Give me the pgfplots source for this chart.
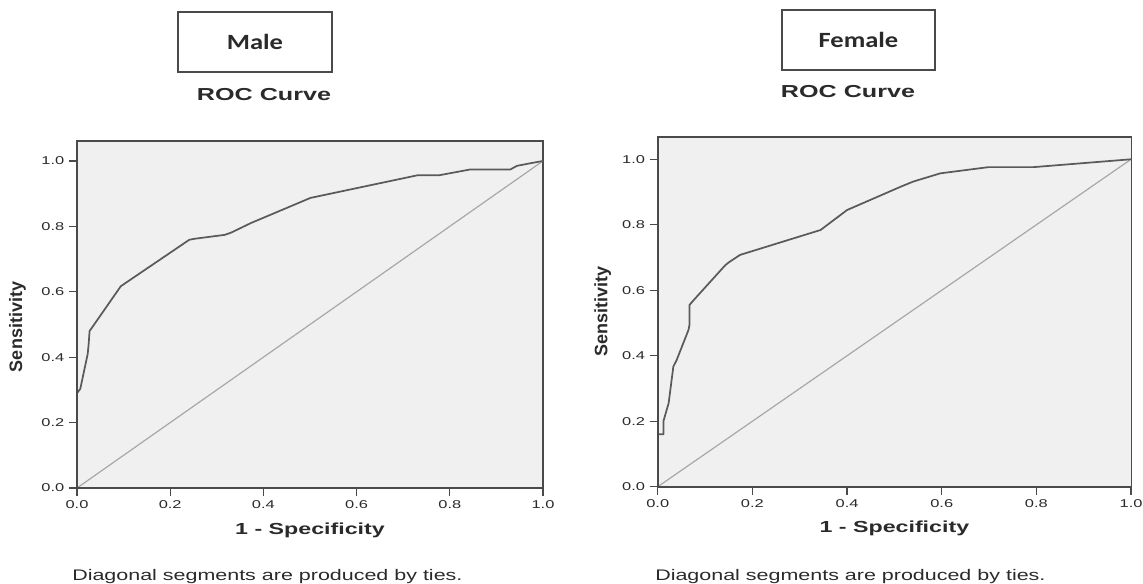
\documentclass[border=0pt]{standalone}
\usepackage{pgfplots}
\pgfplotsset{compat=1.18}
\usepackage{graphicx}
\usepackage{fontspec}
\setmainfont{Liberation Sans}
\newfontfamily\calib{Carlito}

\definecolor{plotbg}{HTML}{F0F0F1}
\definecolor{framec}{HTML}{4A4A4A}
\definecolor{curvec}{HTML}{5A5A5A}
\definecolor{diagc}{HTML}{A8A8A8}
\definecolor{textc}{HTML}{2A2A2A}

% the whole reference is stretched sideways, so the text is too
\newcommand{\wide}[1]{\scalebox{1.45}[1]{#1}}

\pgfplotsset{
  rocaxis/.style={
    scale only axis, anchor=south west,
    xmin=0, xmax=1, ymin=0,
    xtick={0,0.2,0.4,0.6,0.8,1.0},
    ytick={0,0.2,0.4,0.6,0.8,1.0},
    xtick pos=lower, ytick pos=left,
    tick align=outside, major tick length=6pt,
    tick style={framec, line width=0.9pt},
    axis line style={framec, line width=0.8pt},
    axis background/.style={fill=plotbg},
    /pgf/number format/assume math mode=true,
    xticklabel={\wide{\pgfmathprintnumber[fixed,fixed zerofill,precision=1]{\tick}}},
    yticklabel={\wide{\pgfmathprintnumber[fixed,fixed zerofill,precision=1]{\tick}}},
    tick label style={font=\fontsize{8.5}{10}\selectfont, text=textc},
    every axis x label/.style={anchor=center},
    every axis y label/.style={rotate=90, anchor=center},
    xlabel style={font=\fontsize{12}{14}\selectfont\bfseries, text=textc},
    ylabel style={font=\fontsize{13.5}{15}\selectfont\bfseries, text=textc},
    extra description/.code={
      \draw[framec, line width=1.6pt] (rel axis cs:0,1) -- (rel axis cs:0,0) -- (rel axis cs:1,0);
    },
  },
  roc/.style={curvec, line width=1.3pt, line join=round},
  diag/.style={diagc, line width=0.9pt},
}

\begin{document}
\begin{tikzpicture}[x=0.75pt, y=0.75pt]
\path[use as bounding box] (0,0) rectangle (1143,583);

% Male
\begin{axis}[rocaxis, at={(57.75pt,71.25pt)}, width=349.5pt, height=260.25pt, ymax=1.061,
  xlabel={\wide{1 - Specificity}}, ylabel={Sensitivity},
  xlabel style={at={(rel axis cs:0.5,-0.121)}},
  ylabel style={at={(rel axis cs:-0.128,0.464)}}]
\addplot[diag] coordinates {(0,0) (1,1)};
\addplot[roc] coordinates {
  (0,0) (0,0.29) (0.007,0.303) (0.023,0.41) (0.025,0.44) (0.027,0.48)
  (0.032,0.49) (0.094,0.617) (0.241,0.759) (0.252,0.762) (0.317,0.774)
  (0.331,0.781) (0.373,0.81) (0.501,0.887) (0.73,0.956) (0.776,0.956)
  (0.844,0.974) (0.93,0.974) (0.944,0.985) (0.973,0.993) (1,1)
};
\end{axis}

% Female
\begin{axis}[rocaxis, at={(493.3pt,72.2pt)}, width=355pt, height=262.3pt, ymax=1.068,
  xlabel={\wide{1 - Specificity}}, ylabel={Sensitivity},
  xlabel style={at={(rel axis cs:0.5,-0.118)}},
  ylabel style={at={(rel axis cs:-0.116,0.502)}}]
\addplot[diag] coordinates {(0,0) (1,1)};
\addplot[roc] coordinates {
  (0,0) (0,0.16) (0.012,0.16) (0.012,0.2) (0.023,0.255) (0.033,0.367)
  (0.04,0.387) (0.065,0.479) (0.067,0.494) (0.067,0.555) (0.076,0.57)
  (0.143,0.677) (0.15,0.685) (0.174,0.708) (0.344,0.784) (0.40,0.845)
  (0.513,0.916) (0.54,0.932) (0.597,0.957) (0.699,0.976) (0.794,0.976) (1,1)
};
\end{axis}

% headings
\node[draw=framec, line width=1.4pt, minimum width=115.5pt, minimum height=45pt,
  font=\calib\fontsize{16.3}{18}\selectfont\bfseries, text=textc] at (255,541) {\scalebox{1.22}[1]{Male}};
\node[draw=framec, line width=1.4pt, minimum width=114.75pt, minimum height=45pt,
  font=\calib\fontsize{16.3}{18}\selectfont\bfseries, text=textc] at (858.5,543) {\scalebox{1.22}[1]{Female}};
\node[font=\fontsize{13}{15}\selectfont\bfseries, text=textc] at (264,488) {\wide{ROC Curve}};
\node[font=\fontsize{13}{15}\selectfont\bfseries, text=textc] at (848,491.5) {\wide{ROC Curve}};

% footnotes
\node[anchor=base west, inner sep=0pt, font=\fontsize{11.5}{13}\selectfont, text=textc] at (72,3)
  {\scalebox{1.4}[1]{Diagonal segments are produced by ties.}};
\node[anchor=base west, inner sep=0pt, font=\fontsize{11.5}{13}\selectfont, text=textc] at (655,3)
  {\scalebox{1.4}[1]{Diagonal segments are produced by ties.}};
\end{tikzpicture}
\end{document}
